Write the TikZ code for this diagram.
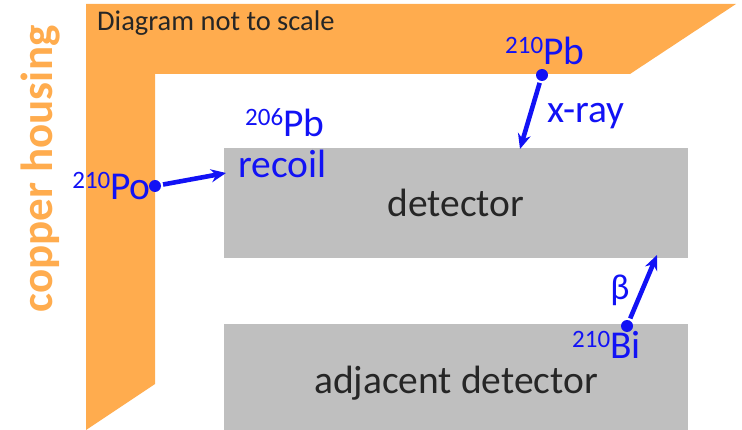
\documentclass[tikz,border=0pt]{standalone}
\usepackage{fontspec}
\setmainfont{Carlito}
\usetikzlibrary{arrows.meta}
\definecolor{copper}{HTML}{FFAC4E}
\definecolor{slab}{HTML}{BFBFBF}
\definecolor{ink}{HTML}{262626}
\definecolor{nblue}{HTML}{1212F5}
\newcommand{\iso}[2]{{\fontsize{25}{25}\selectfont\raisebox{11pt}{#1}}#2}

\begin{document}
\begin{tikzpicture}[x=1pt,y=-1pt,font=\fontsize{39.5}{42}\selectfont,>={Stealth[length=15pt,width=13pt]},
  lab/.style={text=nblue,inner sep=0pt},
  ray/.style={->,nblue,line width=4.6pt,shorten <=2pt},
  src/.style={circle,fill=nblue,inner sep=0pt,minimum size=12pt}]
  \useasboundingbox (0,0) rectangle (742,430);

  % Copper housing
  \fill[copper] (86,4)--(736,4)--(630,74)--(155,74)--(155,384)--(86,430)--cycle;
  \node[text=copper,font=\fontsize{45}{45}\selectfont\bfseries,rotate=90,inner sep=0pt] (cu) at (41,169) {copper housing};
  \node[text=ink,font=\fontsize{28.5}{30}\selectfont,anchor=base west,inner sep=0pt] (note) at (97,31) {Diagram not to scale};

  % Detectors
  \node[fill=slab,text=ink,minimum width=464pt,minimum height=110pt,inner sep=0pt] (det) at (456,203) {detector};
  \node[fill=slab,minimum width=464pt,minimum height=106pt,inner sep=0pt] (adj) at (456,377) {};
  \node[text=ink,anchor=base,inner sep=0pt] (adjLab) at (456,393) {adjacent detector};

  % Sources
  \node[src] (po) at (155,186) {};
  \node[src] (pb) at (542,75) {};
  \node[src] (bi) at (627,326) {};
  \coordinate (poHit) at (226,173);
  \coordinate (pbHit) at (520,149);
  \coordinate (biHit) at (657,255);

  \draw[ray] (po)--(poHit);
  \draw[ray] (pb)--(pbHit);
  \draw[ray] (bi)--(biHit);

  % Labels
  \node[lab,anchor=base east] (poLab) at (151,200) {\iso{210}{Po}};
  \node[lab,anchor=base west] (pbLab) at (245,137) {\iso{206}{Pb}};
  \node[lab,anchor=base west] (recoil) at (238,178) {recoil};
  \node[lab,anchor=base west] (xLab) at (505,65) {\iso{210}{Pb}};
  \node[lab,anchor=base west] (xray) at (547,123) {x-ray};
  \node[lab,font=\fontsize{36}{38}\selectfont] (beta) at (620,290) {β};
  \node[lab,anchor=base east] (biLab) at (641,359) {\iso{210}{Bi}};
\end{tikzpicture}
\end{document}
